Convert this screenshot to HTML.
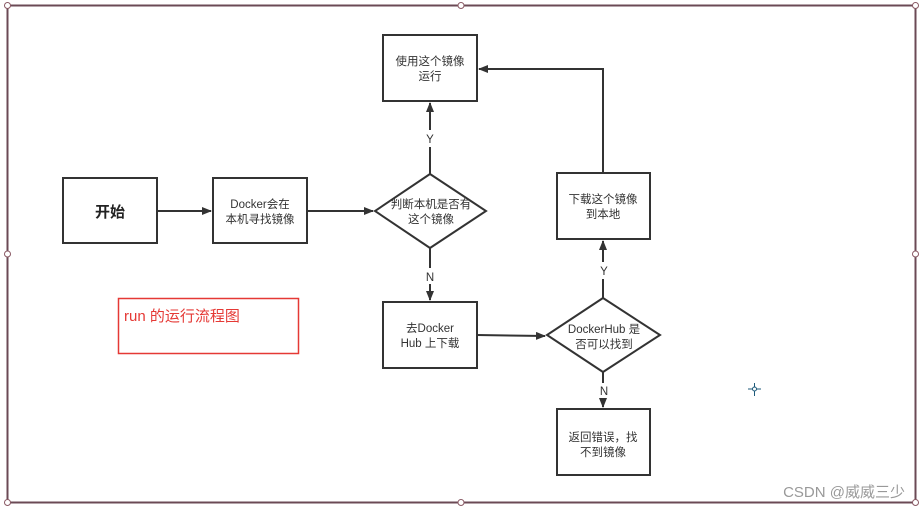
<!DOCTYPE html>
<html><head><meta charset="utf-8"><style>
body{margin:0;background:#fff}
svg text{font-family:"Liberation Sans","Noto Sans CJK SC",sans-serif;fill:#333}
</style></head><body>
<svg width="921" height="509" viewBox="0 0 921 509" xmlns="http://www.w3.org/2000/svg">
<defs><marker id="a" markerWidth="10" markerHeight="8" refX="9" refY="4" orient="auto" markerUnits="userSpaceOnUse"><path d="M0,0 L10,4 L0,8 Z" fill="#333"/></marker></defs>
<rect x="0" y="0" width="921" height="509" fill="#fff"/>
<rect x="7.5" y="5.5" width="908" height="497" fill="none" stroke="#6b4a55" stroke-width="2"/>
<g fill="#fff" stroke="#8a5a65" stroke-width="1">
<circle cx="7.5" cy="5.5" r="3"/><circle cx="461" cy="5.5" r="3"/><circle cx="915.5" cy="5.5" r="3"/>
<circle cx="7.5" cy="254" r="3"/><circle cx="915.5" cy="254" r="3"/>
<circle cx="7.5" cy="502.5" r="3"/><circle cx="461" cy="502.5" r="3"/><circle cx="915.5" cy="502.5" r="3"/>
</g>
<g stroke="#333" stroke-width="2" fill="#fff">
<rect x="63" y="178" width="94" height="65"/>
<rect x="213" y="178" width="94" height="65"/>
<polygon points="430,174 486,211 430,248 375,211"/>
<rect x="383" y="35" width="94" height="66"/>
<rect x="383" y="302" width="94" height="66"/>
<polygon points="603,298 660,335 603,372 547,335"/>
<rect x="557" y="173" width="93" height="66"/>
<rect x="557" y="409" width="93" height="66"/>
</g>
<g stroke="#333" stroke-width="2" fill="none">
<line x1="157" y1="211" x2="211" y2="211" marker-end="url(#a)"/>
<line x1="307" y1="211" x2="373" y2="211" marker-end="url(#a)"/>
<line x1="430" y1="174" x2="430" y2="147"/><line x1="430" y1="130" x2="430" y2="103" marker-end="url(#a)"/>
<line x1="430" y1="248" x2="430" y2="268"/><line x1="430" y1="284" x2="430" y2="300" marker-end="url(#a)"/>
<line x1="477" y1="335" x2="545" y2="336" marker-end="url(#a)"/>
<line x1="603" y1="298" x2="603" y2="279"/><line x1="603" y1="262" x2="603" y2="241" marker-end="url(#a)"/>
<line x1="603" y1="372" x2="603" y2="383"/><line x1="603" y1="398" x2="603" y2="407" marker-end="url(#a)"/>
<polyline points="603,173 603,69 479,69" marker-end="url(#a)"/>
</g>
<rect x="118.5" y="298.5" width="180" height="55" fill="none" stroke="#e53935" stroke-width="1.5"/>
<text x="124" y="321" font-size="15" style="fill:#e53935">run 的运行流程图</text>
<text x="110" y="217" font-size="15" font-weight="bold" text-anchor="middle" style="fill:#222">开始</text>
<g font-size="11.5" text-anchor="middle">
<text x="260" y="208">Docker会在</text><text x="260" y="223">本机寻找镜像</text>
<text x="431" y="208">判断本机是否有</text><text x="431" y="223">这个镜像</text>
<text x="430" y="65">使用这个镜像</text><text x="430" y="80">运行</text>
<text x="430" y="332">去Docker</text><text x="430" y="347">Hub 上下载</text>
<text x="604" y="333">DockerHub 是</text><text x="604" y="348">否可以找到</text>
<text x="603" y="203">下载这个镜像</text><text x="603" y="218">到本地</text>
<text x="603" y="441">返回错误，找</text><text x="603" y="456">不到镜像</text>
<text x="430" y="143">Y</text><text x="430" y="281">N</text>
<text x="604" y="275">Y</text><text x="604" y="395">N</text>
</g>
<g stroke="#1d5a7a" stroke-width="1"><line x1="748" y1="389" x2="761" y2="389"/><line x1="754.5" y1="383" x2="754.5" y2="396"/></g>
<circle cx="754.5" cy="389" r="2" fill="#fff" stroke="#1d5a7a"/>
<text x="905" y="497" font-size="15" text-anchor="end" style="fill:#999">CSDN @威威三少</text>
</svg>
</body></html>
